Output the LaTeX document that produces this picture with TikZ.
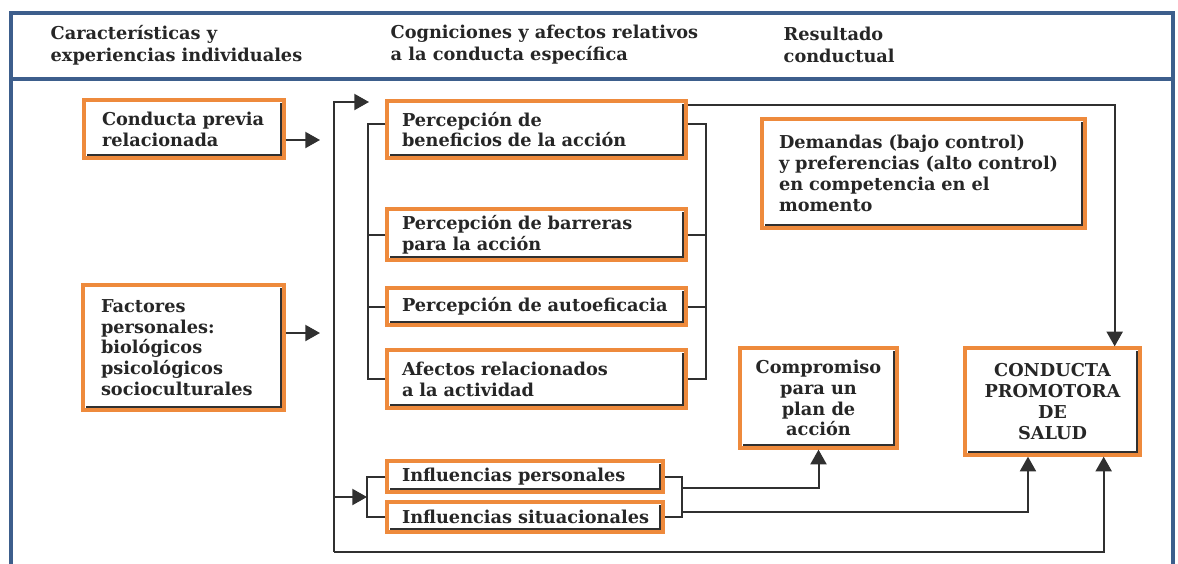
\documentclass[tikz,border=0pt]{standalone}
\usepackage{fontspec}
\setmainfont{DejaVu Serif}
\usetikzlibrary{arrows.meta,calc}
\definecolor{boxorange}{HTML}{EE8A3C}
\definecolor{framecol}{HTML}{3D5E8C}
\definecolor{linecol}{HTML}{303030}
\def\pu{0.75pt}
\tikzset{
  txt/.style={font=\bfseries\fontsize{13.3}{15.6}\selectfont, text=black!85},
  obox/.style={txt, draw=boxorange, line width=2.5pt, fill=white, inner sep=0pt,
    path picture={\draw[linecol, line width=0.9pt]
      ([xshift=-2.2pt,yshift=-2.2pt]path picture bounding box.north east) --
      ([xshift=-2.2pt,yshift=2.2pt]path picture bounding box.south east) --
      ([xshift=2.2pt,yshift=2.2pt]path picture bounding box.south west);}},
  conn/.style={draw=linecol, line width=1.5pt},
  arr/.style={conn, -{Triangle[length=11pt,width=12pt]}},
  frame/.style={draw=framecol, line width=2.4pt},
  head/.style={txt, align=left, anchor=west, font=\bfseries\fontsize{13.3}{16.5}\selectfont}
}
\begin{document}
\begin{tikzpicture}[x=0.75pt,y=-0.75pt]
\useasboundingbox (0,0) rectangle (1178,564);
% frame
\draw[frame] (11,564) -- (11,13) -- (1173,13) -- (1173,564);
\draw[frame] (11,79) -- (1173,79);
% headers
\node[head] (h1) at (46,45) {Características y\\experiencias individuales};
\node[head] (h2) at (386,45) {Cogniciones y afectos relativos\\a la conducta específica};
\node[head] (h3) at (779,45) {Resultado\\conductual};
% left column
\node[obox, minimum width=200*\pu, minimum height=58*\pu, text width=164*\pu, align=left] (prev) at (184,129) {Conducta previa\\relacionada};
\node[obox, minimum width=201*\pu, minimum height=125*\pu, text width=165*\pu, align=left] (fact) at (183.5,347.5) {Factores\\personales:\\biológicos\\psicológicos\\socioculturales};
% middle column
\node[obox, minimum width=299*\pu, minimum height=57*\pu, text width=269*\pu, align=left] (ben) at (536.5,129.5) {Percepción de\\beneficios de la acción};
\node[obox, minimum width=299*\pu, minimum height=51*\pu, text width=269*\pu, align=left] (bar) at (536.5,234.5) {Percepción de barreras\\para la acción};
\node[obox, minimum width=299*\pu, minimum height=37*\pu, text width=269*\pu, align=left] (auto) at (536.5,306.5) {Percepción de autoeficacia};
\node[obox, minimum width=299*\pu, minimum height=58*\pu, text width=269*\pu, align=left] (afe) at (536.5,379) {Afectos relacionados\\a la actividad};
\node[obox, minimum width=276*\pu, minimum height=31*\pu, text width=246*\pu, align=left] (ip) at (525,476.5) {\mbox{Influencias personales}};
\node[obox, minimum width=276*\pu, minimum height=30*\pu, text width=246*\pu, align=left] (is) at (525,517) {\mbox{Influencias situacionales}};
% right column
\node[obox, minimum width=323*\pu, minimum height=109*\pu, text width=289*\pu, align=left] (dem) at (923.5,173.5) {Demandas (bajo control)\\y preferencias (alto control)\\en competencia en el\\momento};
\node[obox, minimum width=157*\pu, minimum height=100*\pu, align=center] (comp) at (818.5,398) {Compromiso\\para un\\plan de\\acción};
\node[obox, minimum width=175*\pu, minimum height=107*\pu, align=center] (cond) at (1052.5,401.5) {CONDUCTA\\PROMOTORA\\DE\\SALUD};
% free ends
\coordinate (prevTip) at (320,140);
\coordinate (factTip) at (320,333);
\coordinate (busT) at (334,102);
\coordinate (busB) at (334,552);
\coordinate (topTip) at (369,102);
\coordinate (lbx) at (368,0);
\coordinate (rbx) at (706,0);
\coordinate (ibl) at (367,497);
\coordinate (ibr) at (682,0);
% arrows from left column
\draw[arr] (prev.east |- prevTip) -- (prevTip);
\draw[arr] (fact.east |- factTip) -- (factTip);
% bus
\draw[arr] (busB) -- (busT) -- (topTip);
\draw[arr] (busB |- ibl) -- (ibl);
\draw[arr] (busB) -| ([xshift=-28.5pt]cond.south east);
% brackets of the perception group
\draw[conn] ([yshift=4pt]ben.west) -| (lbx |- afe.west) -- (afe.west);
\draw[conn] (bar.west) -- (bar.west -| lbx);
\draw[conn] (auto.west) -- (auto.west -| lbx);
\draw[conn] ([yshift=4pt]ben.east) -| (rbx |- afe.east) -- (afe.east);
\draw[conn] (bar.east) -- (bar.east -| rbx);
\draw[conn] (auto.east) -- (auto.east -| rbx);
% top line to conducta
\draw[arr] ([yshift=-4.5pt]ben.north east) -| ([xshift=-20.25pt]cond.north east);
% influences bracket
\draw[conn] (ip.west) -| (ibl) |- (is.west);
\draw[conn] (ip.east) -| (ibr |- is.east) -- (is.east);
\draw[arr] ($(ibr |- ip.east)+(0,11)$) -| (comp.south);
\draw[arr] ($(ibr |- is.east)+(0,-5)$) -| ([xshift=-18.4pt]cond.south);
\end{tikzpicture}
\end{document}
